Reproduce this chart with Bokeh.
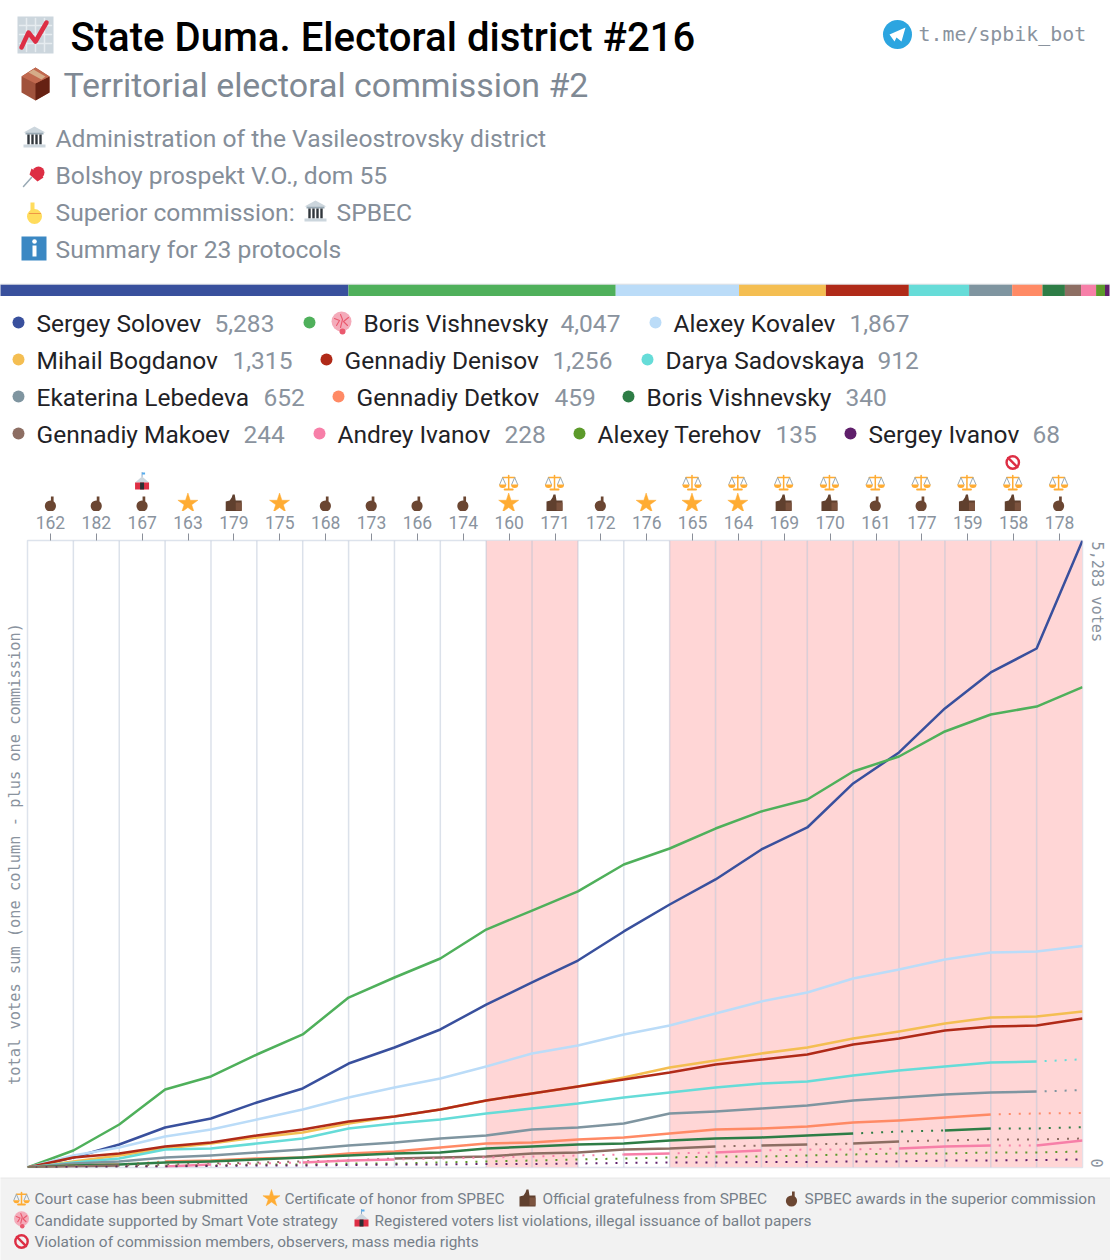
import math
from bokeh.plotting import figure
from bokeh.layouts import column, row
from bokeh.models import Range1d, FixedTicker
from bokeh.core.properties import value
from bokeh.embed import file_html
from bokeh.resources import INLINE

# ---------- data ----------
commissions = ["162","182","167","163","179","175","168","173","166","174","160","171",
               "172","176","165","164","169","170","161","177","159","158","178"]
award = ["one","one","one","star","thumb","star","one","one","one","one","star","thumb",
         "one","star","star","star","thumb","thumb","one","one","thumb","thumb","one"]
court = [0,0,0,0,0,0,0,0,0,0,1,1,0,0,1,1,1,1,1,1,1,1,1]
lists_violation = ["167"]
rights_violation = ["158"]

names = ["Sergey Solovev","Boris Vishnevsky","Alexey Kovalev","Mihail Bogdanov","Gennadiy Denisov",
         "Darya Sadovskaya","Ekaterina Lebedeva","Gennadiy Detkov","Boris Vishnevsky","Gennadiy Makoev",
         "Andrey Ivanov","Alexey Terehov","Sergey Ivanov"]
totals = [5283,4047,1867,1315,1256,912,652,459,340,244,228,135,68]
colors = ["#39509d","#4fb05b","#bbdcf8","#f4be52","#b02a18","#66dcd8","#7f95a0","#ff8a65",
          "#2e7d46","#8d6e63","#f77fa8","#5c9a2b","#5f1f6b"]

solovev = [84,194,337,413,548,666,876,1011,1163,1373,1559,1744,1989,2216,2427,2680,2865,3236,3497,3868,4171,4373,5283]
vishnevsky = [143,362,657,767,952,1121,1432,1601,1761,2005,2165,2326,2553,2688,2856,3000,3101,3337,3463,3674,3817,3884,4047]
kovalev = [101,169,261,320,404,489,590,674,750,851,961,1028,1121,1197,1298,1399,1475,1593,1668,1753,1812,1820,1867]
bogdanov = [51,101,160,202,253,295,371,430,489,565,624,683,758,843,902,961,1011,1087,1146,1213,1264,1272,1315]
denisov = [84,118,177,211,270,320,388,430,489,565,624,683,741,800,868,910,952,1036,1087,1154,1188,1196,1256]
sadovskaya = [42,76,152,160,202,244,329,371,404,455,497,539,590,632,674,708,725,775,817,851,885,893,912]
lebedeva = [34,51,84,101,126,152,185,211,244,270,320,337,371,455,472,497,522,565,590,615,632,640,652]
detkov = [17,25,51,59,76,84,118,135,169,202,211,236,253,286,320,329,345,379,396,421,447,455,459]
vishnevsky2 = [17,25,42,51,67,84,101,118,126,160,177,194,202,228,244,253,270,286,303,312,329,329,340]
makoev = [8,17,25,34,42,51,59,76,84,93,118,126,152,160,177,185,194,202,219,228,236,236,244]
a_ivanov = [8,8,8,25,34,42,59,67,76,84,93,101,110,118,126,143,152,152,160,177,185,185,228]
terehov = [8,8,17,17,25,25,34,34,42,51,59,67,76,84,93,93,101,110,118,118,126,126,135]
s_ivanov = [4,8,8,13,17,17,21,25,25,30,30,34,38,42,42,46,46,51,51,59,59,63,68]
series = [solovev,vishnevsky,kovalev,bogdanov,denisov,sadovskaya,lebedeva,detkov,vishnevsky2,makoev,a_ivanov,terehov,s_ivanov]

# columns whose part of a candidate's line is only dotted
dotted = [[],[],[],[],[],[22],[22],[2,21,22],[18,19,21,22],
          [2,3,4,5,6,7,15,17,19,20,21,22],
          [0,1,2,4,5,8,9,10,11,12,14,16,17,18,21],
          list(range(23)),list(range(23))]

# ---------- layout (page pixels) ----------
W = 1110
GRAY = "#858e99"
LEFT, RIGHT, TOP, BOTTOM = 28, 1082, 540, 1167
legend_rows = [323,360,397,434]
legend_layout = [(0,18,37,215),(0,309,364,561),(0,655,674,850),
                 (1,18,37,233),(1,326,345,553),(1,647,666,878),
                 (2,18,37,264),(2,338,357,555),(2,628,647,846),
                 (3,18,37,244),(3,319,338,505),(3,579,598,776),(3,850,869,1033)]

def page_fig(y0, y1, bg="#ffffff", x0=0, x1=W):
    f = figure(width=x1-x0, height=y1-y0, x_range=Range1d(x0+1,x1+1), y_range=Range1d(y1,y0),
               output_backend="svg", toolbar_location=None, min_border=0, frame_align=False,
               background_fill_color=bg, border_fill_color=bg, outline_line_color=None)
    f.axis.visible = False
    f.grid.visible = False
    return f

def txt(f,x,y,s,size,color,font="Roboto",style="normal",align="left",angle=0):
    f.text(x=[x],y=[y],text=[s],text_font=value(font),text_font_size=f"{size}px",angle=angle,
           text_color=color,text_baseline="middle",text_align=align,text_font_style=style)

def disc(f,x,y,r,c):
    f.circle(x=[x],y=[y],radius=r,fill_color=c,line_color=None)
def box(f,x0,y0,x1,y1,c):
    f.quad(left=[x0],right=[x1],top=[y0],bottom=[y1],fill_color=c,line_color=None)
def poly(f,xs,ys,c):
    f.patch(xs,ys,fill_color=c,line_color=None)
def stroke(f,xs,ys,c,w):
    f.line(xs,ys,line_color=c,line_width=w,line_join="round",line_cap="round")

def ic_one(f,x,y):
    disc(f,x,y+2.5,5.6,"#6b4632"); box(f,x+0.5,y-7,x+3.2,y+1,"#6b4632")
def ic_thumb(f,x,y):
    poly(f,[x-8,x-4,x-2,x-1,x+1,x+2,x+8,x+8,x-8],[y-2,y-3,y-6,y-9,y-9,y-3,y-3,y+8,y+8],"#60402e")
    box(f,x+2,y-1,x+8,y+7,"#7c533e")
def ic_star(f,x,y,size=21):
    f.scatter(x=[x],y=[y],marker="star",size=size,fill_color="#ffac33",line_color="#ffac33",line_width=0.5)
def ic_scales(f,x,y,k=1.0):
    stroke(f,[x,x],[y-7*k,y+6*k],"#ffac33",1.5); stroke(f,[x-6*k,x+6*k],[y-5*k,y-5*k],"#ffac33",1.5)
    stroke(f,[x-4*k,x+4*k],[y+7*k,y+7*k],"#ffac33",2)
    for d in (-6,6):
        d=d*k
        stroke(f,[x+d-3*k,x+d,x+d+3*k],[y+2*k,y-5*k,y+2*k],"#99aab5",1)
        f.wedge(x=[x+d],y=[y+2*k],radius=3.6*k,start_angle=0,end_angle=math.pi,direction="clock",fill_color="#ffac33",line_color=None)
def ic_noentry(f,x,y,r=7):
    f.circle(x=[x],y=[y],radius=r-0.8,fill_color=None,line_color="#dd2e44",line_width=2.4)
    stroke(f,[x-4.6,x+4.6],[y-4.6,y+4.6],"#dd2e44",2.4)
def ic_tent(f,x,y):
    poly(f,[x-7,x,x+7],[y-1,y-7,y-1],"#ccd6dd")
    stroke(f,[x,x],[y-7,y-11],"#88a8c8",1); box(f,x,y-11,x+3,y-9,"#55acee")
    box(f,x-7,y-1,x+7,y+6,"#dd2e44"); box(f,x-2,y-1,x+2,y+6,"#292f33")
def ic_brain(f,x,y,k=1.0):
    disc(f,x,y-1*k,10*k,"#f4abba")
    disc(f,x+1*k,y+9*k,3*k,"#ea596e")
    stroke(f,[x-7*k,x-2*k,x-5*k],[y-4*k,y-2*k,y+3*k],"#ea596e",1.1)
    stroke(f,[x+7*k,x+2*k,x+6*k],[y-5*k,y-1*k,y+3*k],"#ea596e",1.1)
    stroke(f,[x-1*k,x+1*k,x-1*k],[y-8*k,y-3*k,y+5*k],"#ea596e",1.1)
def ic_bank(f,x,y):
    poly(f,[x-11,x,x+11],[y-5,y-11,y-5],"#ccd6dd")
    box(f,x-9,y-5,x+9,y-3,"#99aab5")
    for d in (-6,-2,2,6):
        box(f,x+d-1.2,y-3,x+d+1.2,y+7,"#31373d")
    box(f,x-11,y+7,x+11,y+10,"#ccd6dd")

# ---------- header ----------
head = page_fig(0,283)
box(head,18,16,54,53,"#ccd6dd")
for v in (27,36,45):
    stroke(head,[v,v],[18,51],"#e6ecf0",1.5)
    stroke(head,[20,52],[v-2,v-2],"#e6ecf0",1.5)
stroke(head,[22,29,36,47],[47,32,41,22],"#dd2e44",4.5)
txt(head,71,37,"State Duma. Electoral district #216",40.05,"#000000",font="Roboto Medium")
poly(head,[22,36,50,50,36,22],[76,67,76,92,100,92],"#a0523c")
poly(head,[36,50,50,36],[83,76,92,100],"#662113")
poly(head,[22,36,50,36],[76,67,76,83],"#c1694f")
poly(head,[29,34,46,42],[72,69,76,79],"#d5ab88")
txt(head,64,85,"Territorial electoral commission #2",33.9,"#7f8994")
ic_bank(head,35,137)
txt(head,56,138,"Administration of the Vasileostrovsky district",24.65,GRAY)
poly(head,[32,44,38,30],[168,177,181,174],"#dd2e44")
disc(head,39,172,6,"#dd2e44")
stroke(head,[24,32],[186,177],"#99aab5",1.5)
txt(head,56,175,"Bolshoy prospekt V.O., dom 55",24.65,GRAY)
box(head,31,202,35,214,"#ffdc5d"); disc(head,35,216,7.5,"#ffdc5d"); stroke(head,[30,41],[213,213],"#ef9645",1)
txt(head,56,212,"Superior commission:",24.65,GRAY)
ic_bank(head,316,211)
txt(head,337,212,"SPBEC",24.65,GRAY)
box(head,22,236,47,260,"#3b88c3"); box(head,33,245,37,256,"#ffffff"); disc(head,35,241,2.3,"#ffffff")
txt(head,56,249,"Summary for 23 protocols",24.65,GRAY)
disc(head,898,34,14.5,"#2ca5e0")
poly(head,[890,906,902,897,895],[34,27,41,37,41],"#ffffff")
txt(head,919,34,"t.me/spbik_bot",19.9,"#8a939e",font="DejaVu Sans Mono")

# ---------- share bar ----------
grand = sum(totals)
bar = figure(width=W,height=13,x_range=Range1d(grand/W,grand+grand/W),y_range=Range1d(0,1),frame_align=False,
             output_backend="svg",toolbar_location=None,min_border=0,outline_line_color=None)
bar.axis.visible=False; bar.grid.visible=False
left_edges=[sum(totals[:i]) for i in range(len(totals))]
right_edges=[sum(totals[:i+1]) for i in range(len(totals))]
bar.quad(left=left_edges,right=right_edges,bottom=0,top=0.92,fill_color=colors,line_color=None)
bar.quad(left=[0],right=[grand*1.01],bottom=0.92,top=1,fill_color="#d5d8dc",line_color=None)

# ---------- legend and commission marks ----------
mid = page_fig(296,511)
for name,tot,col,(rw,dx,nx,vx) in zip(names,totals,colors,legend_layout):
    y = legend_rows[rw]
    disc(mid,dx+1,y-1,6,col)
    txt(mid,nx,y,name,24.5,"#1f2226")
    txt(mid,vx,y,f"{tot:,}",24.5,"#8a939e")
ic_brain(mid,342,322)
colw = (RIGHT-LEFT)/len(commissions)
for i,(c,a,ct) in enumerate(zip(commissions,award,court)):
    x = LEFT+(i+.5)*colw
    if a=="one": ic_one(mid,x,503)
    elif a=="star": ic_star(mid,x,503)
    else: ic_thumb(mid,x,503)
    if ct: ic_scales(mid,x,482)
    if c in lists_violation: ic_tent(mid,x,483)
    if c in rights_violation: ic_noentry(mid,x,462)

# ---------- chart ----------
n = len(commissions)
mono="DejaVu Sans Mono"
SPLIT = RIGHT+2
p = figure(width=SPLIT,height=1177-511,x_range=Range1d(0,n),y_range=Range1d(0,totals[0]),
           x_axis_location="above",output_backend="svg",toolbar_location=None,frame_align=False,
           min_border_left=LEFT-1,min_border_right=SPLIT-RIGHT,min_border_top=TOP-511,min_border_bottom=1177-BOTTOM,
           outline_line_color="#dde3ec",outline_line_width=1.5,background_fill_color="#ffffff")
p.grid.visible=False
ax=p.xaxis[0]
ax.ticker=FixedTicker(ticks=[i+.5 for i in range(n)])
ax.major_label_overrides={i+.5:c for i,c in enumerate(commissions)}
ax.major_label_text_font="Roboto"
ax.major_label_text_font_size="17.5px"
ax.major_label_text_color="#8a939e"
ax.major_label_standoff=5
ax.major_tick_out=7
ax.major_tick_in=0
ax.major_tick_line_color="#8a8f99"
ax.axis_line_color=None
ax.minor_tick_line_color=None

ya=p.yaxis[0]
ya.ticker=FixedTicker(ticks=[])
ya.axis_line_color=None
ya.major_tick_line_color=None
ya.minor_tick_line_color=None
ya.axis_label="total votes sum (one column - plus one commission)"
ya.axis_label_text_font=mono
ya.axis_label_text_font_style="normal"
ya.axis_label_text_font_size="15.35px"
ya.axis_label_text_color="#8a939e"
ya.axis_label_standoff=4

bi=[i for i,c in enumerate(court) if c]
p.quad(left=bi,right=[i+1 for i in bi],bottom=0,top=totals[0],fill_color="#ffd6d6",line_color=None)
p.segment(x0=list(range(1,n)),x1=list(range(1,n)),y0=0,y1=totals[0],line_color="#b0bcd0",line_alpha=0.45,line_width=1.5)

for vals,col,dots in zip(series,colors,dotted):
    pts=[0]+vals
    s=0
    while s<n:
        e=s
        d=s in dots
        while e<n and (e in dots)==d:
            e+=1
        xs=list(range(s,e+1)); ys=pts[s:e+1]
        if d:
            p.line(xs,ys,line_color=col,line_width=2,line_dash="2 8",line_dash_offset=2)
        else:
            p.line(xs,ys,line_color=col,line_width=2.5,line_join="round")
        s=e

# captions to the right of the plot, rotated to run downward
side = page_fig(511,1177,x0=SPLIT,x1=W)
txt(side,1097,541,f"{totals[0]:,} votes",15.2,"#8a939e",font=mono,angle=-math.pi/2)
txt(side,1097,1158,"0",15.2,"#8a939e",font=mono,angle=-math.pi/2)

# ---------- footer ----------
foot = page_fig(1177,1260,bg="#f2f2f2")
box(foot,0,1177,W+2,1178,"#e6e6e6")
FT="#767f89"; FS=15.42
ic_scales(foot,22,1198,0.85)
txt(foot,35,1198,"Court case has been submitted",FS,FT)
ic_star(foot,272,1198,18)
txt(foot,285,1198,"Certificate of honor from SPBEC",FS,FT)
ic_thumb(foot,528,1198)
txt(foot,543,1198,"Official gratefulness from SPBEC",FS,FT)
ic_one(foot,792,1198)
txt(foot,805,1198,"SPBEC awards in the superior commission",FS,FT)
ic_brain(foot,22,1219,0.75)
txt(foot,35,1220,"Candidate supported by Smart Vote strategy",FS,FT)
ic_tent(foot,362,1220)
txt(foot,375,1220,"Registered voters list violations, illegal issuance of ballot papers",FS,FT)
ic_noentry(foot,22,1241)
txt(foot,35,1241,"Violation of commission members, observers, mass media rights",FS,FT)

page = column(head,bar,mid,row(p,side,spacing=0),foot,spacing=0)
open("out.html","w").write(file_html(page,INLINE))
